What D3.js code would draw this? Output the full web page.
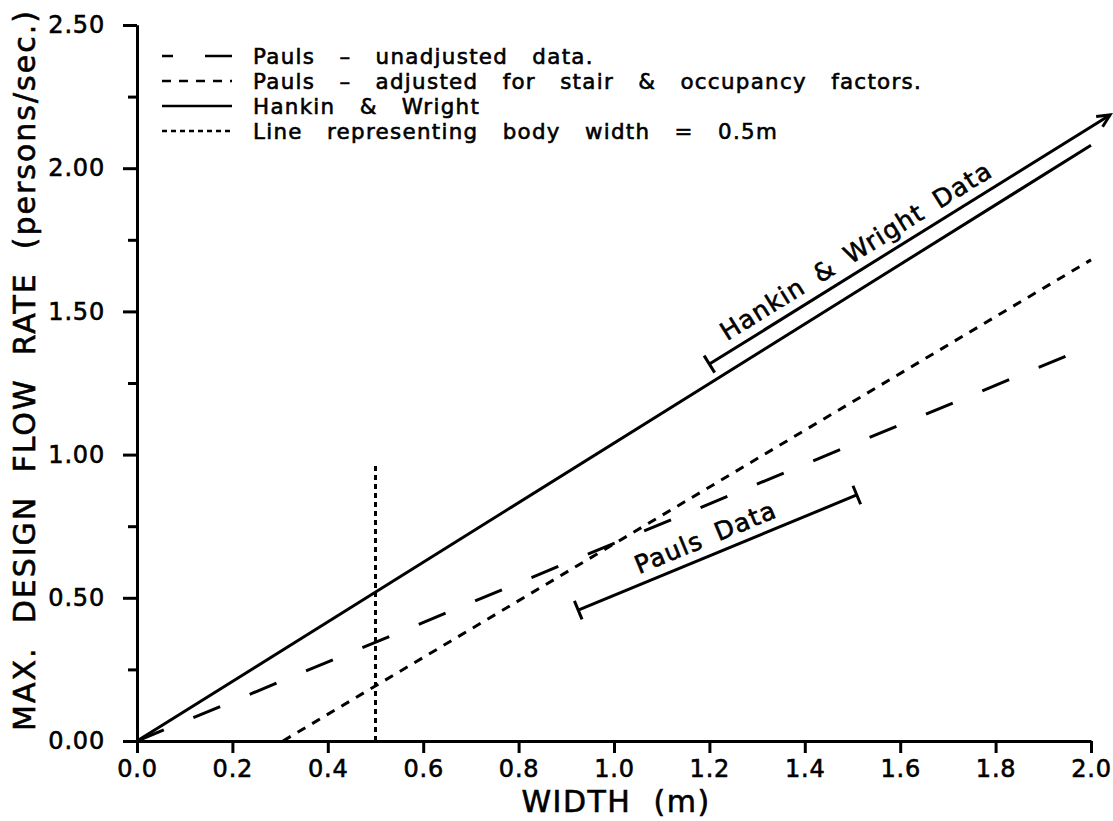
<!DOCTYPE html>
<html>
<head>
<meta charset="utf-8">
<script src="https://cdn.jsdelivr.net/npm/d3@7"></script>
<style>
  body { margin: 0; background: #fff; }
  text { font-family: "DejaVu Sans", sans-serif; fill: #000; stroke: #000; stroke-width: 0.6px; }
</style>
</head>
<body>
<svg id="chart" width="1113" height="821"></svg>
<script>
// values
const widthEnds = [0, 2.0];
const hankinWright = [0, 2.08];
const paulsUnadjusted = [0, 1.38];
const paulsAdjustedX = [0.306, 2.0];
const paulsAdjusted = [0, 1.68];
const bodyWidthX = [0.5, 0.5];
const bodyWidthY = [0, 0.97];

const hwBracketX = [1.2, 2.04];
const hwBracketY = [1.316, 2.186];
const paulsBracketX = [0.925, 1.509];
const paulsBracketY = [0.457, 0.859];

const xTicks = [0, 0.2, 0.4, 0.6, 0.8, 1.0, 1.2, 1.4, 1.6, 1.8, 2.0];
const yTicks = [0, 0.5, 1.0, 1.5, 2.0, 2.5];
const yMinorTicks = [0.25, 0.75, 1.25, 1.75, 2.25];

const legendLabels = [
    "Pauls  –  unadjusted  data.",
    "Pauls  –  adjusted  for  stair  &  occupancy  factors.",
    "Hankin  &  Wright",
    "Line  representing  body  width  =  0.5m"
];

const svg = d3.select("#chart");

const x = d3.scaleLinear().domain([0, 2.0]).range([137, 1091]);
const y = d3.scaleLinear().domain([0, 2.5]).range([741, 25]);

const dashStyles = {
    unadj: "29,32",
    adj: "9,8",
    solid: null,
    dotted: "5,4"
};

// axes
const xAxis = svg.append("g")
    .attr("transform", "translate(0," + y(0) + ")")
    .call(d3.axisBottom(x).tickValues(xTicks).tickSize(12).tickSizeOuter(0).tickPadding(6)
        .tickFormat(d3.format(".1f")));

const yMinor = svg.append("g")
    .attr("transform", "translate(" + x(0) + ",0)")
    .call(d3.axisLeft(y).tickValues(yMinorTicks).tickSize(9).tickSizeOuter(0).tickFormat(""));

const yAxis = svg.append("g")
    .attr("transform", "translate(" + x(0) + ",0)")
    .call(d3.axisLeft(y).tickValues(yTicks).tickSize(14).tickSizeOuter(0).tickPadding(18)
        .tickFormat(d3.format(".2f")));

[xAxis, yAxis, yMinor].forEach(function(g){
    g.selectAll("path, line").attr("stroke", "#000").attr("stroke-width", 3);
    g.selectAll("text").style("font-size", "24px").style("letter-spacing", "0.8px");
});
xAxis.selectAll("text").attr("dy", "0.75em");

// data lines
const line = d3.line().x(d => x(d[0])).y(d => y(d[1]));

function drawLine(xs, ys, dash) {
    svg.append("path")
        .datum(d3.zip(xs, ys))
        .attr("d", line)
        .attr("fill", "none")
        .attr("stroke", "#000")
        .attr("stroke-width", 3)
        .attr("stroke-dasharray", dash);
}

drawLine(widthEnds, paulsUnadjusted, dashStyles.unadj);
drawLine(paulsAdjustedX, paulsAdjusted, dashStyles.adj);
drawLine(widthEnds, hankinWright, dashStyles.solid);
drawLine(bodyWidthX, bodyWidthY, dashStyles.dotted);

// annotation brackets
function bracket(xs, ys, label, arrowEnd, along, offset) {
    const x0 = x(xs[0]), y0 = y(ys[0]), x1 = x(xs[1]), y1 = y(ys[1]);
    const ang = Math.atan2(y1 - y0, x1 - x0);
    const ux = Math.cos(ang), uy = Math.sin(ang);
    const nx = uy, ny = -ux;   // perpendicular, pointing up-left
    const g = svg.append("g").attr("stroke", "#000").attr("stroke-width", 3).attr("fill", "none");
    g.append("line").attr("x1", x0).attr("y1", y0).attr("x2", x1).attr("y2", y1);
    g.append("line")
        .attr("x1", x0 + nx * 10).attr("y1", y0 + ny * 10)
        .attr("x2", x0 - nx * 10).attr("y2", y0 - ny * 10);
    if (arrowEnd) {
        const a = 14, s = 0.45;
        g.append("path")
            .attr("d", "M" + (x1 - a * Math.cos(ang - s)) + "," + (y1 - a * Math.sin(ang - s)) +
                "L" + x1 + "," + y1 +
                "L" + (x1 - a * Math.cos(ang + s)) + "," + (y1 - a * Math.sin(ang + s)));
    } else {
        g.append("line")
            .attr("x1", x1 + nx * 10).attr("y1", y1 + ny * 10)
            .attr("x2", x1 - nx * 10).attr("y2", y1 - ny * 10);
    }
    const tx = x0 + ux * along + nx * offset, ty = y0 + uy * along + ny * offset;
    svg.append("text")
        .attr("transform", "translate(" + tx + "," + ty + ") rotate(" + (ang * 180 / Math.PI) + ")")
        .style("font-size", "25px")
        .style("letter-spacing", "1.2px")
        .style("word-spacing", "6px")
        .text(label);
}

bracket(hwBracketX, hwBracketY, "Hankin & Wright Data", true, 27, 10);
bracket(paulsBracketX, paulsBracketY, "Pauls Data", false, 70, 10);

// legend
const legendDash = [dashStyles.unadj, dashStyles.adj, dashStyles.solid, dashStyles.dotted];
const legendOffset = [18, 0, 0, 0];
const legend = svg.append("g").attr("transform", "translate(162,64)");
legendLabels.forEach(function(lbl, i){
    const row = legend.append("g").attr("transform", "translate(0," + (i * 25) + ")");
    row.append("line")
        .attr("x1", 0).attr("x2", 70).attr("y1", -8).attr("y2", -8)
        .attr("stroke", "#000").attr("stroke-width", 2.5)
        .attr("stroke-dasharray", legendDash[i])
        .attr("stroke-dashoffset", legendOffset[i]);
    row.append("text")
        .attr("x", 91)
        .style("font-size", "21.4px")
        .style("letter-spacing", "1.3px")
        .style("word-spacing", "4px")
        .style("white-space", "pre")
        .text(lbl);
});

// axis titles
svg.append("text")
    .attr("x", 616).attr("y", 812)
    .attr("text-anchor", "middle")
    .style("font-size", "30px")
    .style("letter-spacing", "1.5px")
    .style("white-space", "pre")
    .text("WIDTH  (m)");

svg.append("text")
    .attr("transform", "translate(35,370) rotate(-90)")
    .attr("text-anchor", "middle")
    .style("font-size", "30px")
    .style("letter-spacing", "2px")
    .style("white-space", "pre")
    .text("MAX.  DESIGN  FLOW  RATE  (persons/sec.)");
</script>
</body>
</html>
